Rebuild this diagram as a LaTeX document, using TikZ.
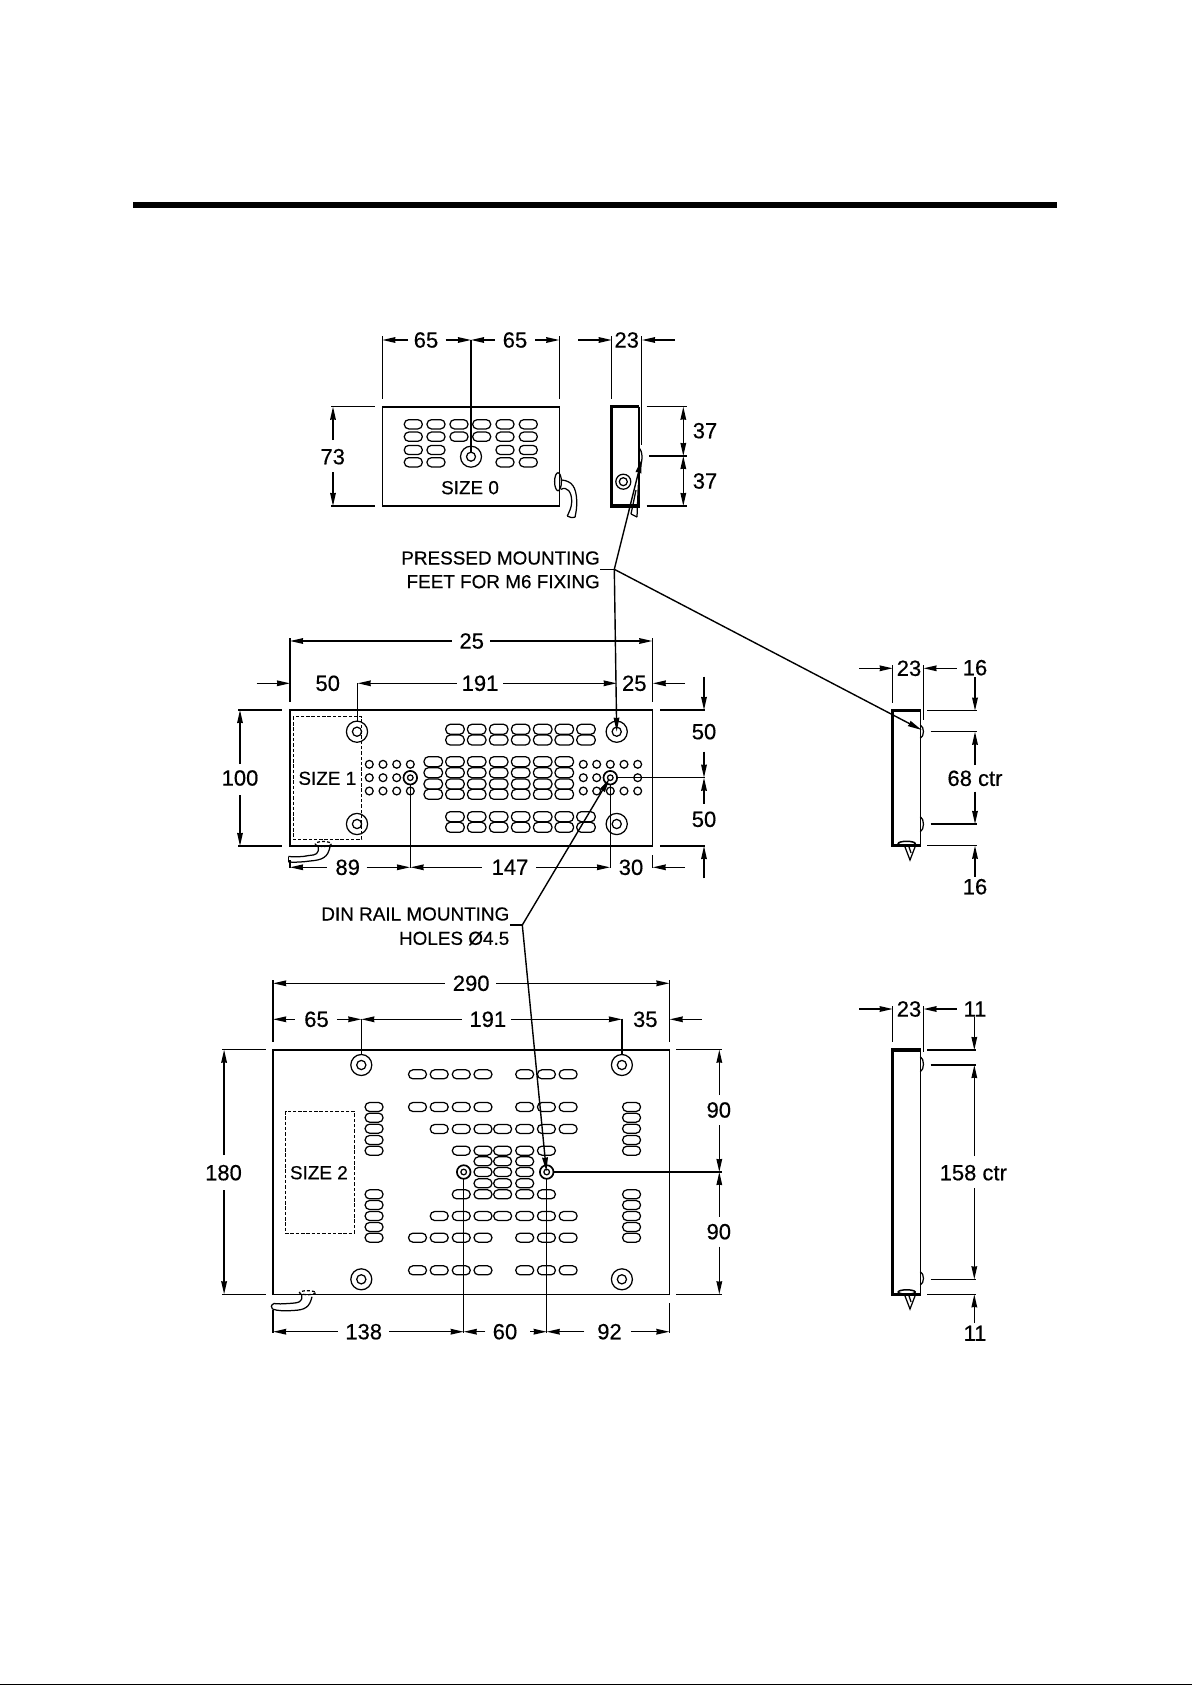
\documentclass[tikz,border=0pt]{standalone}
\usepackage{fontspec}
\setmainfont{Liberation Sans}[FakeBold=0.35]
\newfontfamily\drawfont{Liberation Sans}[AutoFakeBold=0.4]
\usetikzlibrary{arrows.meta}
\tikzset{
  ln/.style={line width=1.4pt,line cap=butt},
  body/.style={line width=1.6pt},
  heavy/.style={line width=3.1pt,line cap=butt},
  dimarrow/.style={line width=1.4pt,-{Stealth[length=13pt,width=5.6pt,inset=0.4pt]}},
  leaderarrow/.style={line width=1.4pt,-{Stealth[length=14pt,width=5.6pt,inset=0.4pt]}},
  slotshape/.style={line width=1.25pt,rounded corners=4.4pt},
  hole/.style={line width=1.25pt},
  outlinebox/.style={line width=0.8pt,dash pattern=on 3.5pt off 1.8pt},
  dimtext/.style={inner sep=0pt,font=\drawfont\bfseries\fontsize{22}{22}\selectfont},
  sizetext/.style={inner sep=0pt,font=\drawfont\bfseries\fontsize{18.9}{19}\selectfont},
  notetext/.style={inner sep=0pt,anchor=east,font=\drawfont\bfseries\fontsize{18.9}{19}\selectfont},
}
\newcommand{\bosshole}[3]{\draw[hole] (#1,#2) circle (#3);\draw[hole] (#1,#2) circle (4.6);}
\newcommand{\dinhole}[2]{\draw[line width=1.7pt] (#1,#2) circle (6.8);\draw[hole] (#1,#2) circle (2.8);}
\newcommand{\nub}[2]{\draw[hole] (920.3,#1) .. controls (924.5,#1+2) and (924.5,#2-2) .. (920.3,#2);}
\begin{document}
\begin{tikzpicture}[x=1pt,y=-1pt]
\useasboundingbox (0,0) rectangle (1192,1685);
\fill[white] (0,0) rectangle (1192,1685);
\fill[black] (133,202) rectangle (1057,208);
\fill[black] (0,1683.7) rectangle (1192,1685);

% ---------- SIZE 0 front
\draw[body] (382.3,406.7) rectangle (559.3,506);
\foreach \y in {424.3,436.7}{\foreach \x in {413.3,436,459,481.7,505,528.3}{\draw[slotshape] (\x-9,\y-4.6) rectangle ++(18,9.2);}}
\foreach \y in {450,462.3}{\foreach \x in {413.3,436,505,528.3}{\draw[slotshape] (\x-9,\y-4.6) rectangle ++(18,9.2);}}
\draw[hole] (471,456.7) circle (10.5); \draw[hole] (471,456.7) circle (4.5);
\node[sizetext] (size0) at (470,487.7) {SIZE 0};
\draw[ln] (382.3,336) -- (382.3,399.3);
\draw[ln] (559.3,336) -- (559.3,399.3);
\draw[ln] (471,340) -- (471,452);
\node[dimtext] (a65) at (426,340) {65};
\node[dimtext] (b65) at (515,340) {65};
\draw[dimarrow] (408,340) -- (382.3,340);
\draw[dimarrow] (445.7,340) -- (471,340);
\draw[dimarrow] (495,340) -- (471,340);
\draw[dimarrow] (535,340) -- (559.3,340);
\node[dimtext] (t73) at (332.7,456.7) {73};
\draw[ln] (331,406.7) -- (375,406.7);
\draw[ln] (331,506) -- (375,506);
\draw[dimarrow] (333,440) -- (333,406.7);
\draw[dimarrow] (333,472) -- (333,506);
% cable
\draw[hole] (558,481.7) ellipse (3.4 and 9);
\draw[hole] (561.7,480) .. controls (572,481) and (576,487) .. (576.7,500) .. controls (577,508) and (576,512) .. (575,517.3);
\draw[hole] (561,489.3) .. controls (567,486) and (572,492) .. (571.7,502) .. controls (571.5,508) and (569,512) .. (567.3,516);
\draw[hole] (567.3,516) -- (571,517.5) -- (575,517.3);

% ---------- SIZE 0 side
\draw[body] (639,406.7) -- (639,506);
\draw[heavy] (611.7,505) -- (611.7,406.7) -- (639,406.7);
\draw[heavy] (610.3,506) -- (639.5,506);
\draw[hole] (623.3,481.7) circle (7.5);
\draw[hole] (623.3,481.7) circle (4);
\draw[hole] (639,448) .. controls (643,451) and (643,463) .. (639,468);
\draw[hole] (638.3,485) -- (637,517);
\draw[hole] (631,514) -- (636,490);
\draw[hole] (631,514) -- (637,517);
\node[dimtext] (s23a) at (626.7,340) {23};
\draw[ln] (611.7,336) -- (611.7,399.3);
\draw[ln] (641.7,336) -- (641.7,445);
\draw[dimarrow] (578,340) -- (611.7,340);
\draw[dimarrow] (675,340) -- (642,340);
\draw[ln] (646.7,406.7) -- (686.7,406.7);
\draw[ln] (649,456) -- (686.7,456);
\draw[ln] (646.7,506) -- (686.7,506);
\draw[dimarrow] (683.3,430) -- (683.3,406.7);
\draw[dimarrow] (683.3,430) -- (683.3,456);
\draw[dimarrow] (683.3,482) -- (683.3,456);
\draw[dimarrow] (683.3,482) -- (683.3,506);
\node[dimtext] (a37) at (705,430.7) {37};
\node[dimtext] (b37) at (705,481) {37};

% ---------- Leader 1
\node[notetext] (pressedA) at (600,558) {PRESSED MOUNTING};
\node[notetext] (pressedB) at (600,581.7) {FEET FOR M6 FIXING};
\coordinate (pj) at (614.3,569.3);
\coordinate (pTipA) at (641.8,459);
\coordinate (pTipB) at (616.7,731.7);
\coordinate (pTipC) at (921.7,730);
\draw[ln] (600.3,569.3) -- (pj);
\draw[leaderarrow] (pj) -- (pTipA);
\draw[leaderarrow] (pj) -- (pTipB);
\draw[leaderarrow] (pj) -- (pTipC);

% ---------- SIZE 1 front
\draw[body] (290,710) rectangle (652.3,846);
\draw[outlinebox] (293.3,716.7) rectangle (361.7,839.3);
\node[sizetext] (size1) at (327.3,778.3) {SIZE 1};
\foreach \y in {729.3,740,816.7,827.3}{\foreach \x in {455,476.7,498.7,520.7,542.7,564.3,586}{\draw[slotshape] (\x-9.2,\y-5) rectangle ++(18.4,10);}}
\foreach \y in {761.7,772.7,784,794.3}{\foreach \x in {433.3,455,476.7,498.7,520.7,542.7,564.3}{\draw[slotshape] (\x-9.2,\y-5) rectangle ++(18.4,10);}}
\foreach \x in {369.3,383,396.7,410.3}{\foreach \y in {764.3,791}{\draw[hole] (\x,\y) circle (3.9);}}
\foreach \x in {369.3,383,396.7}{\draw[hole] (\x,777.7) circle (3.9);}
\foreach \x in {583.3,596.7,610.3,624,637.7}{\foreach \y in {764.3,791}{\draw[hole] (\x,\y) circle (3.9);}}
\foreach \x in {583.3,596.7,637.7}{\draw[hole] (\x,777.7) circle (3.9);}
\dinhole{410.3}{777.7}
\dinhole{610.3}{777.7}
\bosshole{357}{731.7}{10.6}
\bosshole{357}{824}{10.6}
\bosshole{616.7}{731.7}{10.6}
\bosshole{616.7}{824}{10.6}
\draw[ln] (290,638) -- (290,701.7);
\draw[ln] (652.3,638) -- (652.3,701.7);
\node[dimtext] (t25a) at (471.7,641) {25};
\draw[dimarrow] (451.7,641) -- (290,641);
\draw[dimarrow] (490,641) -- (652.3,641);
\node[dimtext] (t50a) at (327.7,683.3) {50};
\node[dimtext] (t191a) at (480,683.3) {191};
\node[dimtext] (t25b) at (634.3,683.3) {25};
\draw[dimarrow] (256.7,683.3) -- (290,683.3);
\draw[dimarrow] (456.7,683.3) -- (357.7,683.3);
\draw[dimarrow] (503,683.3) -- (616.7,683.3);
\draw[dimarrow] (685,683.3) -- (652.8,683.3);
\draw[ln] (357.3,683.3) -- (357.3,721);
\node[dimtext] (t100) at (240,778) {100};
\draw[ln] (238,710) -- (281.7,710);
\draw[ln] (238,846) -- (281.7,846);
\draw[dimarrow] (240,764) -- (240,710);
\draw[dimarrow] (240,795) -- (240,846);
% bottom row
\draw[ln] (410.3,784) -- (410.3,868.3);
\draw[ln] (610.3,784) -- (610.3,868.3);
\draw[ln] (652.3,855) -- (652.3,868.3);
\draw[ln] (290,860) -- (290,868.3);
\node[dimtext] (t89) at (347.7,867.3) {89};
\node[dimtext] (t147) at (510,867.3) {147};
\node[dimtext] (t30) at (631,867.3) {30};
\draw[dimarrow] (326.7,867.3) -- (290,867.3);
\draw[dimarrow] (366.7,867.3) -- (410,867.3);
\draw[dimarrow] (481.7,867.3) -- (410.6,867.3);
\draw[dimarrow] (536,867.3) -- (610,867.3);
\draw[dimarrow] (685,867.3) -- (652.7,867.3);
% right
\draw[ln] (660,710) -- (705,710);
\draw[ln] (660,846) -- (705,846);
\draw[ln] (617,777.7) -- (705,777.7);
\node[dimtext] (t50b) at (704,731.7) {50};
\node[dimtext] (t50c) at (704,819.3) {50};
\draw[dimarrow] (704,676.7) -- (704,710);
\draw[dimarrow] (704,751.7) -- (704,777.7);
\draw[dimarrow] (704,803.5) -- (704,777.7);
\draw[dimarrow] (704,878.3) -- (704,846);
% cable
\draw[hole,densely dashed] (323.3,844) ellipse (8 and 2.5);
\draw[hole] (318.3,846.7) .. controls (319,854) and (316,855) .. (309,855.5) .. controls (302,857) and (295,857) .. (288.3,856.5);
\draw[hole] (330,846.7) .. controls (328,857) and (323,860) .. (310,861) .. controls (303,862) and (295,862.5) .. (288.3,862);
\draw[hole] (288.3,856.5) -- (288.3,862);

% ---------- Leader 2
\node[notetext] (dinA) at (509.5,914) {DIN RAIL MOUNTING};
\node[notetext] (dinB) at (509.5,938.3) {HOLES Ø4.5};
\coordinate (dj) at (522.3,925);
\coordinate (dTipA) at (609.5,778.5);
\coordinate (dTipB) at (546.4,1171.5);
\draw[ln] (509.8,925) -- (dj);
\draw[leaderarrow] (dj) -- (dTipA);
\draw[leaderarrow] (dj) -- (dTipB);

% ---------- SIZE 2 front
\draw[body] (273.1,1049.7) rectangle (669.4,1294.3);
\draw[outlinebox] (285.5,1111) rectangle (354.1,1233.3);
\node[sizetext] (size2) at (318.9,1172.7) {SIZE 2};
\begin{scope}[shift={(200,960)},x=0.3447pt,y=-0.33333pt]
\foreach \y in {343,441,833,931}{\foreach \x in {631,694,758,821,942,1005,1068}{\draw[slotshape] (\x-26,\y-13.5) rectangle ++(52,27);}}
\foreach \y in {507,768}{\foreach \x in {694,758,821,878,942,1005,1068}{\draw[slotshape] (\x-26,\y-13.5) rectangle ++(52,27);}}
\foreach \y in {572,703}{\foreach \x in {758,821,878,942,1005}{\draw[slotshape] (\x-26,\y-13.5) rectangle ++(52,27);}}
\foreach \y in {604,636,670}{\foreach \x in {821,878,942}{\draw[slotshape] (\x-26,\y-13.5) rectangle ++(52,27);}}
\foreach \x in {505,1252}{\foreach \y in {441,473,506,540,572,703,735,768,801,833}{\draw[slotshape] (\x-26,\y-13.5) rectangle ++(52,27);}}
\end{scope}
\bosshole{361.3}{1065}{10.5}
\bosshole{621.9}{1065}{10.5}
\bosshole{361.3}{1279.3}{10.5}
\bosshole{621.9}{1279.3}{10.5}
\dinhole{463.7}{1172}
\dinhole{546.7}{1172}
\draw[ln] (273.1,980) -- (273.1,1041.7);
\draw[ln] (669.4,980) -- (669.4,1041.7);
\node[dimtext] (t290) at (471.2,983.3) {290};
\draw[dimarrow] (444.8,983.3) -- (273.1,983.3);
\draw[dimarrow] (496.4,983.3) -- (669.4,983.3);
\node[dimtext] (t65c) at (316.5,1019.3) {65};
\node[dimtext] (t191b) at (487.8,1019.3) {191};
\node[dimtext] (t35) at (645.3,1019.3) {35};
\draw[dimarrow] (294.5,1019.3) -- (273.1,1019.3);
\draw[dimarrow] (336.8,1019.3) -- (361.3,1019.3);
\draw[dimarrow] (461.9,1019.3) -- (361.3,1019.3);
\draw[dimarrow] (511.2,1019.3) -- (621.9,1019.3);
\draw[dimarrow] (701.5,1019.3) -- (669.7,1019.3);
\draw[ln] (361.3,1018.7) -- (361.3,1054.7);
\draw[ln] (621.9,1018.7) -- (621.9,1054.7);
\node[dimtext] (t180) at (223.5,1172.7) {180};
\draw[ln] (222.4,1049.7) -- (266.2,1049.7);
\draw[ln] (222.4,1294.3) -- (266.2,1294.3);
\draw[dimarrow] (224.1,1155) -- (224.1,1049.7);
\draw[dimarrow] (224.1,1190) -- (224.1,1294.3);
\draw[ln] (676.4,1049.7) -- (722.2,1049.7);
\draw[ln] (676.4,1294.3) -- (722.2,1294.3);
\draw[ln] (553.5,1172) -- (722.2,1172);
\node[dimtext] (t90a) at (718.8,1110) {90};
\node[dimtext] (t90b) at (718.8,1231.7) {90};
\draw[dimarrow] (719.3,1095) -- (719.3,1049.7);
\draw[dimarrow] (719.3,1125) -- (719.3,1172);
\draw[dimarrow] (719.3,1216.7) -- (719.3,1172);
\draw[dimarrow] (719.3,1246.7) -- (719.3,1294.3);
\draw[ln] (463.7,1179) -- (463.7,1333.3);
\draw[ln] (546.7,1179) -- (546.7,1333.3);
\draw[ln] (273.1,1310) -- (273.1,1333.3);
\draw[ln] (669.4,1303) -- (669.4,1333.3);
\node[dimtext] (t138) at (363.7,1331.7) {138};
\node[dimtext] (t60) at (505,1331.7) {60};
\node[dimtext] (t92) at (609.5,1331.7) {92};
\draw[dimarrow] (337.5,1331.7) -- (273.1,1331.7);
\draw[dimarrow] (389.2,1331.7) -- (463.7,1331.7);
\draw[dimarrow] (485.4,1331.7) -- (463.7,1331.7);
\draw[dimarrow] (530.2,1331.7) -- (546.7,1331.7);
\draw[dimarrow] (584.3,1331.7) -- (546.7,1331.7);
\draw[dimarrow] (630.9,1331.7) -- (669.4,1331.7);
% cable
\draw[hole,densely dashed] (307.5,1292.7) ellipse (8 and 2);
\draw[hole] (301.6,1295) .. controls (302.9,1302) and (299.3,1303) .. (287.9,1303.5) .. controls (282.7,1304) and (277.6,1304) .. (274.1,1303.5);
\draw[hole] (312,1296.7) .. controls (309.6,1307) and (305.5,1310) .. (293,1310.5) .. controls (284.8,1311) and (277.6,1311) .. (272.4,1309);
\draw[hole] (274.1,1303.5) .. controls (270.8,1304.5) and (270.8,1308) .. (272.4,1309);

% ---------- SIZE 1 side
\draw[body] (920.3,710.7) -- (920.3,845.7);
\draw[heavy] (892.7,845) -- (892.7,710.7) -- (920.8,710.7);
\draw[heavy] (891.3,845.7) -- (920.8,845.7);
\nub{725}{738.3}
\nub{816.7}{831.7}
\draw[line width=1.5pt] (906.7,843.5) ellipse (8.5 and 2.2);
\draw[hole] (905,847) -- (910,860) -- (915,847);
\draw[hole] (909,847) -- (911,853);
\node[dimtext] (s23b) at (909,668.3) {23};
\draw[ln] (892.7,665) -- (892.7,702.7);
\draw[ln] (923.3,665) -- (923.3,720);
\draw[dimarrow] (859.3,668.3) -- (892.7,668.3);
\draw[dimarrow] (956.7,668.3) -- (923.5,668.3);
\node[dimtext] (t16a) at (975,667.7) {16};
\node[dimtext] (t16b) at (975,886.7) {16};
\node[dimtext] (t68) at (975,778.3) {68 ctr};
\draw[ln] (927.3,710.7) -- (977.3,710.7);
\draw[ln] (930.7,731.7) -- (977.3,731.7);
\draw[ln] (930.7,824) -- (977.3,824);
\draw[ln] (927.3,845.7) -- (977.3,845.7);
\draw[dimarrow] (975,677) -- (975,710.7);
\draw[dimarrow] (975,765) -- (975,731.7);
\draw[dimarrow] (975,791.7) -- (975,824);
\draw[dimarrow] (975,876.7) -- (975,845.7);

% ---------- SIZE 2 side
\draw[body] (920.3,1050) -- (920.3,1294.3);
\draw[heavy] (892.7,1293.5) -- (892.7,1050) -- (920.8,1050);
\draw[heavy] (891.3,1294.3) -- (920.8,1294.3);
\nub{1056.7}{1071.7}
\nub{1271.7}{1285}
\draw[line width=1.5pt] (906.7,1292) ellipse (8.5 and 2.2);
\draw[hole] (905,1296) -- (910,1309) -- (915,1296);
\draw[hole] (909,1296) -- (911,1302);
\node[dimtext] (s23c) at (909,1009) {23};
\draw[ln] (892.7,1006) -- (892.7,1041.7);
\draw[ln] (923.3,1006) -- (923.3,1051.7);
\draw[dimarrow] (859.3,1009) -- (892.7,1009);
\draw[dimarrow] (956.7,1009) -- (923.5,1009);
\node[dimtext] (t11a) at (975,1009) {11};
\node[dimtext] (t11b) at (975,1333.3) {11};
\node[dimtext] (t158) at (973.3,1172.7) {158 ctr};
\draw[ln] (927.3,1050) -- (976,1050);
\draw[ln] (930.7,1065) -- (976,1065);
\draw[ln] (930.7,1279.3) -- (976,1279.3);
\draw[ln] (927.3,1294.3) -- (976,1294.3);
\draw[dimarrow] (974.3,1017) -- (974.3,1050);
\draw[dimarrow] (974.3,1156) -- (974.3,1065);
\draw[dimarrow] (974.3,1188.3) -- (974.3,1279.3);
\draw[dimarrow] (974.3,1323) -- (974.3,1294.3);
\end{tikzpicture}
\end{document}
